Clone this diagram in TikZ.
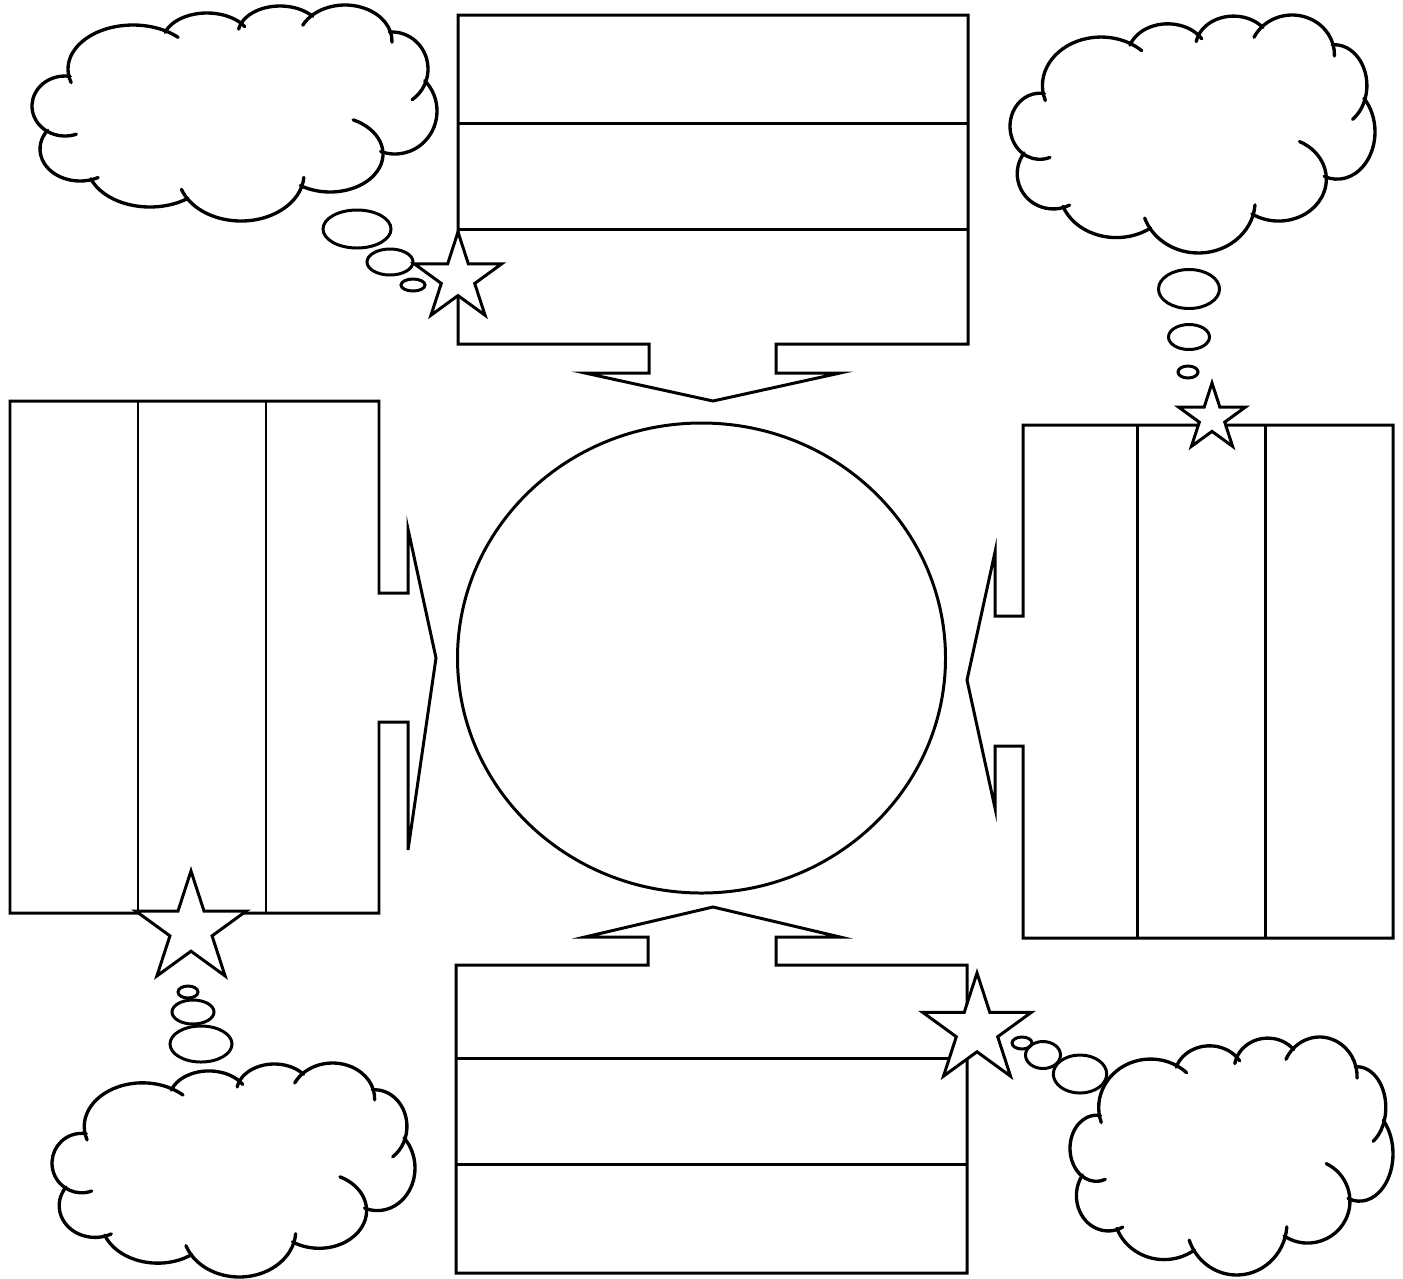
\documentclass[tikz,border=0pt]{standalone}
\usetikzlibrary{calc}
\tikzset{
  outline/.style={line width=0.85pt, line join=miter},
  cloudline/.style={line width=0.95pt, line cap=round},
  bubble/.style={line width=0.85pt},
  starline/.style={line width=0.85pt, fill=white, line join=miter},
}
\newcommand{\cloudbump}[6]{\draw[cloudline] ([shift={(#5:#3 and #4)}]#1,#2) arc[start angle=#5, end angle=#6, x radius=#3, y radius=#4];}
\newcommand{\mycloud}[4]{%
\begin{scope}[shift={(#1,#2)}, xscale=#3/405, yscale=#4/216, shift={(-32,-6)}]
\cloudbump{133}{70}{65}{44}{162}{314}
\cloudbump{207}{42}{44}{28}{198}{329}
\cloudbump{280}{35}{42}{28}{190}{321}
\cloudbump{345}{42}{47}{36}{206}{362}
\cloudbump{392}{70}{36}{37}{266}{416}
\cloudbump{395}{112}{42}{43}{315}{470}
\cloudbump{330}{155}{53}{38}{296}{484}
\cloudbump{241}{175}{63}{47}{4}{161}
\cloudbump{150}{165}{63}{43}{53}{160}
\cloudbump{80}{150}{40}{32}{63}{216}
\cloudbump{65}{107}{33}{30}{70}{279}
\end{scope}}
\newcommand{\mystar}[3]{\draw[starline, shift={(#1,#2)}] (270:#3) \foreach \k in {1,...,9}{ -- ({270+36*\k}:{(isodd(\k) ? 0.382 : 1)*#3}) } -- cycle;}
\begin{document}
\begin{tikzpicture}[x=0.01cm, y=-0.01cm]
\useasboundingbox (0,0) rectangle (1403,1278);
% top box with arrow
\draw[outline] (458,15) -- (968,15) -- (968,344) -- (776,344) -- (776,373) -- (840,373) -- (713,401) -- (585,373) -- (649,373) -- (649,344) -- (458,344) -- cycle;
\draw[outline] (458,123) -- (968,123);
\draw[outline] (458,229) -- (968,229);
% left box with arrow
\draw[outline] (10,401) -- (379,401) -- (379,593) -- (408,593) -- (408,529) -- (436,658) -- (408,850) -- (408,722) -- (379,722) -- (379,913) -- (10,913) -- cycle;
\draw[outline] (138,401) -- (138,913);
\draw[outline] (266,401) -- (266,913);
% right box with arrow
\draw[outline] (1023,425) -- (1393,425) -- (1393,938) -- (1023,938) -- (1023,746) -- (995,746) -- (995,808) -- (967,680) -- (995,552) -- (995,616) -- (1023,616) -- cycle;
\draw[outline] (1137,425) -- (1137,938);
\draw[outline] (1265,425) -- (1265,938);
% bottom box with arrow
\draw[outline] (456,965) -- (648,965) -- (648,937) -- (585,937) -- (713,907) -- (840,937) -- (776,937) -- (776,965) -- (967,965) -- (967,1273) -- (456,1273) -- cycle;
\draw[outline] (456,1058) -- (967,1058);
\draw[outline] (456,1164) -- (967,1164);
% centre circle
\draw[outline] (701.5,658) ellipse[x radius=244, y radius=235];
% thought bubbles
\draw[bubble] (357,229) ellipse[x radius=34, y radius=19];
\draw[bubble] (390,262) ellipse[x radius=23, y radius=13];
\draw[bubble] (413,285) ellipse[x radius=12, y radius=6];
\draw[bubble] (1189,289) ellipse[x radius=30.5, y radius=19.5];
\draw[bubble] (1189,337) ellipse[x radius=20.5, y radius=12.5];
\draw[bubble] (1188,372) ellipse[x radius=10, y radius=6];
\draw[bubble] (188,992) ellipse[x radius=10, y radius=6];
\draw[bubble] (193,1012) ellipse[x radius=21, y radius=12];
\draw[bubble] (201,1044) ellipse[x radius=31, y radius=18];
\draw[bubble] (1022,1043) ellipse[x radius=10, y radius=6];
\draw[bubble] (1043,1055) ellipse[x radius=17.5, y radius=13.5];
\draw[bubble] (1080,1074) ellipse[x radius=26.7, y radius=19];
% clouds
\mycloud{32}{5}{405}{216}
\mycloud{1010}{15}{365}{238}
\mycloud{52}{1063}{363}{214}
\mycloud{1070}{1037}{323}{238}
% stars
\mystar{458}{278}{46}
\mystar{1212}{418}{35}
\mystar{191}{929}{58}
\mystar{977}{1030}{57}
\end{tikzpicture}
\end{document}
